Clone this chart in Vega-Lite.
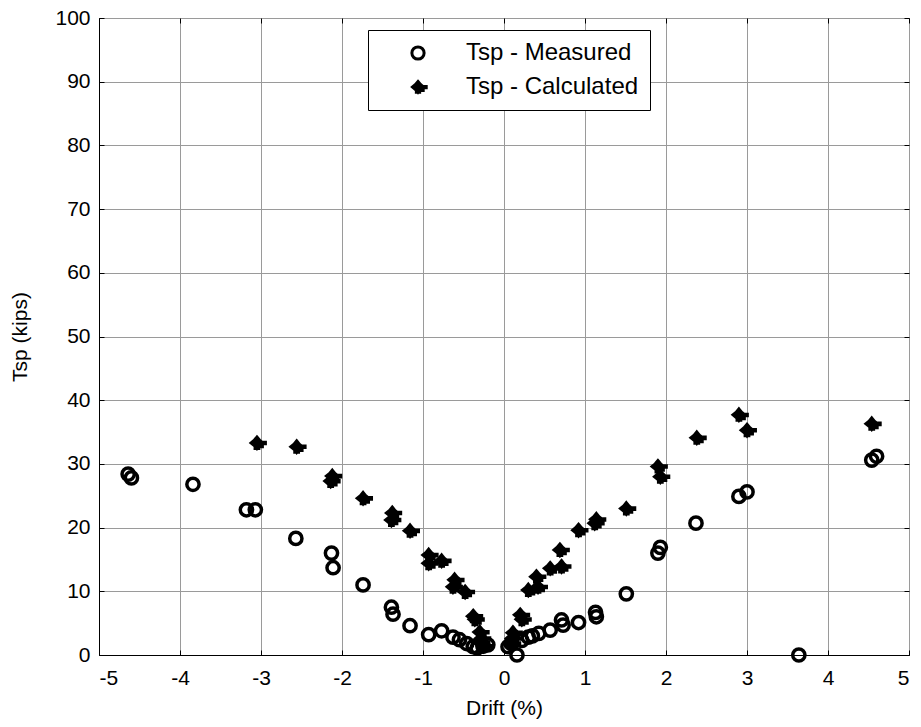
{
  "$schema": "https://vega.github.io/schema/vega-lite/v6.json",
  "width": 810,
  "height": 637,
  "autosize": "none",
  "padding": {"left": 99, "top": 18, "right": 12, "bottom": 72},
  "background": "white",
  "config": {
    "view": {"stroke": "black", "strokeWidth": 1},
    "font": "Liberation Sans",
    "axis": {
      "labelFont": "Liberation Sans",
      "labelFontSize": 21,
      "labelColor": "black",
      "titleFont": "Liberation Sans",
      "titleFontSize": 21,
      "titleFontWeight": "normal",
      "titleColor": "black",
      "domainColor": "black",
      "tickColor": "black",
      "gridColor": "#9a9a9a",
      "gridWidth": 1
    }
  },
  "data": {
    "values": [
      {"drift": -4.64, "tsp": 28.4, "series": "Tsp - Measured"},
      {"drift": -4.6, "tsp": 27.8, "series": "Tsp - Measured"},
      {"drift": -3.84, "tsp": 26.8, "series": "Tsp - Measured"},
      {"drift": -3.18, "tsp": 22.8, "series": "Tsp - Measured"},
      {"drift": -3.07, "tsp": 22.8, "series": "Tsp - Measured"},
      {"drift": -2.57, "tsp": 18.3, "series": "Tsp - Measured"},
      {"drift": -2.13, "tsp": 16.0, "series": "Tsp - Measured"},
      {"drift": -2.11, "tsp": 13.7, "series": "Tsp - Measured"},
      {"drift": -1.74, "tsp": 11.0, "series": "Tsp - Measured"},
      {"drift": -1.39, "tsp": 7.5, "series": "Tsp - Measured"},
      {"drift": -1.37, "tsp": 6.4, "series": "Tsp - Measured"},
      {"drift": -1.16, "tsp": 4.6, "series": "Tsp - Measured"},
      {"drift": -0.93, "tsp": 3.2, "series": "Tsp - Measured"},
      {"drift": -0.77, "tsp": 3.8, "series": "Tsp - Measured"},
      {"drift": -0.63, "tsp": 2.8, "series": "Tsp - Measured"},
      {"drift": -0.55, "tsp": 2.4, "series": "Tsp - Measured"},
      {"drift": -0.46, "tsp": 1.8, "series": "Tsp - Measured"},
      {"drift": -0.38, "tsp": 1.3, "series": "Tsp - Measured"},
      {"drift": -0.33, "tsp": 1.1, "series": "Tsp - Measured"},
      {"drift": -0.26, "tsp": 1.4, "series": "Tsp - Measured"},
      {"drift": -0.2, "tsp": 1.6, "series": "Tsp - Measured"},
      {"drift": 0.05, "tsp": 1.3, "series": "Tsp - Measured"},
      {"drift": 0.09, "tsp": 1.8, "series": "Tsp - Measured"},
      {"drift": 0.16, "tsp": 0.0, "series": "Tsp - Measured"},
      {"drift": 0.22, "tsp": 2.3, "series": "Tsp - Measured"},
      {"drift": 0.3, "tsp": 2.8, "series": "Tsp - Measured"},
      {"drift": 0.35, "tsp": 3.0, "series": "Tsp - Measured"},
      {"drift": 0.43, "tsp": 3.4, "series": "Tsp - Measured"},
      {"drift": 0.57, "tsp": 3.9, "series": "Tsp - Measured"},
      {"drift": 0.71, "tsp": 5.5, "series": "Tsp - Measured"},
      {"drift": 0.73, "tsp": 4.7, "series": "Tsp - Measured"},
      {"drift": 0.92, "tsp": 5.1, "series": "Tsp - Measured"},
      {"drift": 1.13, "tsp": 6.7, "series": "Tsp - Measured"},
      {"drift": 1.14, "tsp": 6.0, "series": "Tsp - Measured"},
      {"drift": 1.51, "tsp": 9.6, "series": "Tsp - Measured"},
      {"drift": 1.9, "tsp": 16.0, "series": "Tsp - Measured"},
      {"drift": 1.93, "tsp": 16.9, "series": "Tsp - Measured"},
      {"drift": 2.37, "tsp": 20.7, "series": "Tsp - Measured"},
      {"drift": 2.9, "tsp": 24.9, "series": "Tsp - Measured"},
      {"drift": 3.0, "tsp": 25.6, "series": "Tsp - Measured"},
      {"drift": 3.64, "tsp": 0.0, "series": "Tsp - Measured"},
      {"drift": 4.54, "tsp": 30.6, "series": "Tsp - Measured"},
      {"drift": 4.6, "tsp": 31.2, "series": "Tsp - Measured"},
      {"drift": -3.05, "tsp": 33.3, "series": "Tsp - Calculated"},
      {"drift": -2.56, "tsp": 32.7, "series": "Tsp - Calculated"},
      {"drift": -2.12, "tsp": 28.1, "series": "Tsp - Calculated"},
      {"drift": -2.14, "tsp": 27.3, "series": "Tsp - Calculated"},
      {"drift": -1.74, "tsp": 24.6, "series": "Tsp - Calculated"},
      {"drift": -1.38, "tsp": 22.3, "series": "Tsp - Calculated"},
      {"drift": -1.39, "tsp": 21.2, "series": "Tsp - Calculated"},
      {"drift": -1.16, "tsp": 19.5, "series": "Tsp - Calculated"},
      {"drift": -0.93, "tsp": 15.7, "series": "Tsp - Calculated"},
      {"drift": -0.93, "tsp": 14.4, "series": "Tsp - Calculated"},
      {"drift": -0.77, "tsp": 14.8, "series": "Tsp - Calculated"},
      {"drift": -0.61, "tsp": 11.8, "series": "Tsp - Calculated"},
      {"drift": -0.63, "tsp": 10.7, "series": "Tsp - Calculated"},
      {"drift": -0.48, "tsp": 9.9, "series": "Tsp - Calculated"},
      {"drift": -0.38, "tsp": 6.1, "series": "Tsp - Calculated"},
      {"drift": -0.36, "tsp": 5.6, "series": "Tsp - Calculated"},
      {"drift": -0.3, "tsp": 3.6, "series": "Tsp - Calculated"},
      {"drift": -0.28, "tsp": 2.6, "series": "Tsp - Calculated"},
      {"drift": -0.29, "tsp": 1.9, "series": "Tsp - Calculated"},
      {"drift": -0.25, "tsp": 1.4, "series": "Tsp - Calculated"},
      {"drift": 0.09, "tsp": 1.8, "series": "Tsp - Calculated"},
      {"drift": 0.1, "tsp": 2.6, "series": "Tsp - Calculated"},
      {"drift": 0.11, "tsp": 3.5, "series": "Tsp - Calculated"},
      {"drift": 0.2, "tsp": 6.3, "series": "Tsp - Calculated"},
      {"drift": 0.22, "tsp": 5.6, "series": "Tsp - Calculated"},
      {"drift": 0.3, "tsp": 10.2, "series": "Tsp - Calculated"},
      {"drift": 0.4, "tsp": 12.3, "series": "Tsp - Calculated"},
      {"drift": 0.42, "tsp": 10.7, "series": "Tsp - Calculated"},
      {"drift": 0.57, "tsp": 13.6, "series": "Tsp - Calculated"},
      {"drift": 0.69, "tsp": 16.5, "series": "Tsp - Calculated"},
      {"drift": 0.71, "tsp": 13.9, "series": "Tsp - Calculated"},
      {"drift": 0.92, "tsp": 19.6, "series": "Tsp - Calculated"},
      {"drift": 1.12, "tsp": 20.7, "series": "Tsp - Calculated"},
      {"drift": 1.14, "tsp": 21.3, "series": "Tsp - Calculated"},
      {"drift": 1.51, "tsp": 23.0, "series": "Tsp - Calculated"},
      {"drift": 1.9, "tsp": 29.6, "series": "Tsp - Calculated"},
      {"drift": 1.93, "tsp": 28.0, "series": "Tsp - Calculated"},
      {"drift": 2.38, "tsp": 34.1, "series": "Tsp - Calculated"},
      {"drift": 2.9, "tsp": 37.7, "series": "Tsp - Calculated"},
      {"drift": 3.0, "tsp": 35.3, "series": "Tsp - Calculated"},
      {"drift": 4.54, "tsp": 36.3, "series": "Tsp - Calculated"}
    ]
  },
  "layer": [
    {
      "mark": {"type": "point", "opacity": 0},
      "encoding": {
        "x": {"field": "drift", "type": "quantitative", "scale": {"domain": [-5, 5], "nice": false},
              "axis": {"orient": "top", "labels": false, "title": null, "grid": false, "domain": false, "tickSize": -5, "values": [-5,-4,-3,-2,-1,0,1,2,3,4,5]}},
        "y": {"field": "tsp", "type": "quantitative", "scale": {"domain": [0, 100], "nice": false},
              "axis": {"orient": "right", "labels": false, "title": null, "grid": false, "domain": false, "tickSize": -5, "values": [0,10,20,30,40,50,60,70,80,90,100]}}
      }
    },
    {
      "mark": {"type": "point", "strokeWidth": 3.5, "stroke": "black", "opacity": 1, "clip": false},
      "encoding": {
        "x": {"field": "drift", "type": "quantitative", "scale": {"domain": [-5, 5], "nice": false},
              "axis": {"orient": "bottom", "title": "Drift (%)", "grid": true, "values": [-5,-4,-3,-2,-1,0,1,2,3,4,5], "labelExpr": "'' + datum.value", "tickSize": -5, "labelPadding": 17, "titlePadding": 9}},
        "y": {"field": "tsp", "type": "quantitative", "scale": {"domain": [0, 100], "nice": false},
              "axis": {"orient": "left", "title": "Tsp (kips)", "grid": true, "values": [0,10,20,30,40,50,60,70,80,90,100], "labelExpr": "'' + datum.value", "tickSize": -5, "labelPadding": 14, "titlePadding": 24}},
        "shape": {"field": "series", "type": "nominal",
                  "scale": {"domain": ["Tsp - Measured", "Tsp - Calculated"],
                            "range": ["circle", "M0,-1 L0.45,-0.45 L1,0 L0.45,0.45 L0,1 L-0.45,0.45 L-1,0 L-0.45,-0.45 Z M0.6,-0.08 L1.5,-0.08 L1.5,0.12 L0.6,0.12 Z M0.2,0.5 L0.95,0.5 L0.95,0.66 L0.2,0.66 Z M-0.3,0.8 L0.3,0.8 L0.3,0.96 L-0.3,0.96 Z"]},
                  "legend": {"title": null, "orient": "none", "legendX": 269, "legendY": 12,
                             "strokeColor": "black", "fillColor": "white", "padding": 11,
                             "symbolOffset": 27, "labelOffset": 36, "labelFontSize": 24, "labelFont": "Liberation Sans", "labelLimit": 0,
                             "labelColor": "black", "rowPadding": 9, "symbolStrokeWidth": 3, "symbolStrokeColor": "black"}},
        "fill": {"field": "series", "type": "nominal",
                 "scale": {"domain": ["Tsp - Measured", "Tsp - Calculated"], "range": ["transparent", "black"]}},
        "size": {"field": "series", "type": "nominal",
                 "scale": {"domain": ["Tsp - Measured", "Tsp - Calculated"], "range": [150, 120]}}
      }
    }
  ],
  "resolve": {"axis": {"x": "independent", "y": "independent"}}
}
